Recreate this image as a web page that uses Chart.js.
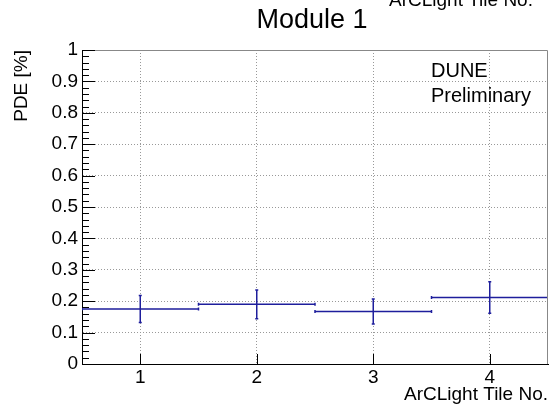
<!DOCTYPE html>
<html>
<head>
<meta charset="utf-8">
<script src="https://cdn.jsdelivr.net/npm/chart.js@4"></script>
<style>
  body { margin: 0; background: #fff; }
  canvas { display: block; }
</style>
</head>
<body>
<canvas id="pdeChart" width="549" height="406"></canvas>
<script>
const tiles = [1, 2, 3, 4];
const pde = [0.175, 0.19, 0.167, 0.212];
const pdeErr = [0.043, 0.046, 0.040, 0.050];
const binWidth = 1;

const FONT = "'Liberation Sans', Arial, sans-serif";
const HIST_COLOR = "#1e1e9c";

// histogram bins + error bars, ROOT E1 style
const histPlugin = {
  id: "hist",
  afterDatasetsDraw(chart) {
    const { ctx, chartArea, scales: { x, y } } = chart;
    ctx.save();
    ctx.beginPath();
    ctx.rect(chartArea.left, chartArea.top, chartArea.width, chartArea.height);
    ctx.clip();
    ctx.strokeStyle = HIST_COLOR;
    ctx.lineWidth = 1.5;
    tiles.forEach((t, i) => {
      const xl = x.getPixelForValue(t - binWidth / 2);
      const xr = x.getPixelForValue(t + binWidth / 2);
      const xc = x.getPixelForValue(t);
      const yc = y.getPixelForValue(pde[i]);
      const yt = y.getPixelForValue(pde[i] + pdeErr[i]);
      const yb = y.getPixelForValue(pde[i] - pdeErr[i]);
      ctx.beginPath();
      ctx.moveTo(xl, yc); ctx.lineTo(xr, yc);
      ctx.moveTo(xc, yt); ctx.lineTo(xc, yb);
      // caps
      ctx.moveTo(xc - 1.5, yt); ctx.lineTo(xc + 1.5, yt);
      ctx.moveTo(xc - 1.5, yb); ctx.lineTo(xc + 1.5, yb);
      ctx.moveTo(xl, yc - 1.5); ctx.lineTo(xl, yc + 1.5);
      ctx.moveTo(xr, yc - 1.5); ctx.lineTo(xr, yc + 1.5);
      ctx.stroke();
    });
    ctx.restore();
  },
  afterDraw(chart) {
    const { ctx, chartArea, scales: { x, y } } = chart;
    ctx.save();
    // frame top/right
    ctx.strokeStyle = "#888";
    ctx.lineWidth = 1;
    ctx.beginPath();
    ctx.moveTo(chartArea.left, chartArea.top + 0.5);
    ctx.lineTo(chartArea.right - 0.5, chartArea.top + 0.5);
    ctx.lineTo(chartArea.right - 0.5, chartArea.bottom);
    ctx.stroke();

    // inner ticks
    ctx.strokeStyle = "#000";
    ctx.beginPath();
    const yt = y.ticks.map(t => t.value);
    for (let i = 0; i < yt.length; i++) {
      const py = Math.round(y.getPixelForValue(yt[i])) + 0.5;
      ctx.moveTo(chartArea.left, py); ctx.lineTo(chartArea.left + 13, py);
      if (i < yt.length - 1) {
        for (let k = 1; k < 5; k++) {
          const v = yt[i] + (yt[i + 1] - yt[i]) * k / 5;
          const pm = Math.round(y.getPixelForValue(v)) + 0.5;
          ctx.moveTo(chartArea.left, pm); ctx.lineTo(chartArea.left + 7, pm);
        }
      }
    }
    x.ticks.forEach(t => {
      const px = Math.round(x.getPixelForValue(t.value)) + 0.5;
      ctx.moveTo(px, chartArea.bottom); ctx.lineTo(px, chartArea.bottom - 10);
    });
    ctx.stroke();

    // texts
    ctx.fillStyle = "#000";
    ctx.textBaseline = "alphabetic";
    ctx.textAlign = "center";
    ctx.font = "27px " + FONT;
    ctx.fillText("Module 1", 312, 28);
    ctx.textAlign = "left";
    ctx.font = "19px " + FONT;
    ctx.fillText("ArCLight Tile No.", 389, 6);
    ctx.font = "20px " + FONT;
    ctx.fillText("DUNE", 431, 77);
    ctx.fillText("Preliminary", 431, 102);
    ctx.restore();
  }
};

new Chart(document.getElementById("pdeChart"), {
  type: "scatter",
  data: {
    datasets: [{
      data: tiles.map((t, i) => ({ x: t, y: pde[i] })),
      pointRadius: 0,
      showLine: false,
      borderColor: HIST_COLOR
    }]
  },
  options: {
    responsive: false,
    devicePixelRatio: 1,
    animation: false,
    layout: { padding: { top: 50, right: 1, left: 0, bottom: 0 } },
    plugins: { legend: { display: false }, tooltip: { enabled: false }, title: { display: false } },
    scales: {
      x: {
        type: "linear",
        min: 0.5,
        max: 4.5,
        afterBuildTicks: s => { s.ticks = tiles.map(v => ({ value: v })); },
        afterFit: s => { s.height = 42; },
        grid: { color: "#999", lineWidth: 1, drawTicks: false },
        border: { color: "#000", width: 1, dash: [1, 2] },
        ticks: { color: "#000", padding: 2, font: { family: FONT, size: 19 } },
        title: { display: true, text: "ArCLight Tile No.", align: "end", color: "#000", padding: 0, font: { family: FONT, size: 19 } }
      },
      y: {
        min: 0,
        max: 1,
        afterFit: s => { s.width = 82; },
        grid: { color: "#999", lineWidth: 1, drawTicks: false },
        border: { color: "#000", width: 1, dash: [1, 2] },
        ticks: {
          stepSize: 0.1, color: "#000", padding: 4, font: { family: FONT, size: 19 },
          callback: v => String(+v.toFixed(1))
        },
        title: { display: true, text: "PDE [%]", align: "end", color: "#000", padding: { top: 10, bottom: 0 }, font: { family: FONT, size: 19 } }
      }
    }
  },
  plugins: [histPlugin]
});
</script>
</body>
</html>
